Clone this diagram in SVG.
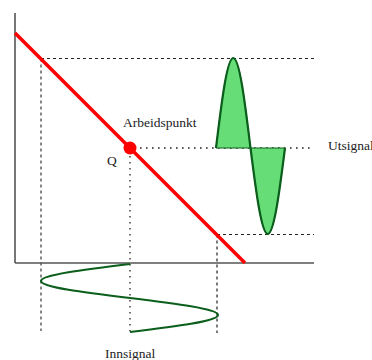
<svg xmlns="http://www.w3.org/2000/svg" width="372" height="360" viewBox="0 0 372 360">
<style>
.axis{stroke:#555;stroke-width:1.6;fill:none}
.dash{stroke:#222;stroke-width:1.2;stroke-dasharray:3,3;fill:none}
.dashg{stroke:#555;stroke-width:1.4;stroke-dasharray:3,3;fill:none}
.dot{stroke:#222;stroke-width:1.3;stroke-dasharray:1.6,4.4;fill:none}
.wave{stroke:#0b5e1b;stroke-width:2.2;fill:none}
.lbl{font-family:"Liberation Serif","Times New Roman",serif;font-size:13.5px;fill:#222}
</style>
<rect width="372" height="360" fill="#fff"/>
<g id="connectors">
<line class="dashg" x1="41" y1="58.5" x2="41" y2="331"/>
<line class="dash" x1="41" y1="58.5" x2="314" y2="58.5"/>
<line class="dot" x1="140" y1="148" x2="314" y2="148"/>
<line class="dot" x1="130" y1="156" x2="130" y2="333"/>
<line class="dash" x1="217" y1="234.5" x2="314" y2="234.5"/>
<line class="dash" x1="217" y1="234.5" x2="217" y2="333"/>
</g>
<g id="axes">
<line class="axis" x1="15" y1="13" x2="15" y2="263"/>
<line class="axis" x1="15" y1="263" x2="314" y2="263"/>
</g>
<g id="loadline">
<line x1="15" y1="33" x2="245" y2="263" stroke="#ff0000" stroke-width="3.5"/>
</g>
<g id="output-signal">
<path d="M216,148 C221.6,101.9 227,58 233.25,58 C239.5,58 244.9,101.9 250.5,148 C256.1,192.1 261.5,234 267.75,234 C274,234 279.4,192.1 285,148 Z" fill="#66dd77" stroke="#0b5e1b" stroke-width="1"/>
<path class="wave" d="M216,148 C221.6,101.9 227,58 233.25,58 C239.5,58 244.9,101.9 250.5,148 C256.1,192.1 261.5,234 267.75,234 C274,234 279.4,192.1 285,148"/>
</g>
<g id="input-signal">
<path class="wave" d="M130,264 C84.4,269.5 41,274.85 41,281 C41,287.15 84.4,292.5 130,298 C175.1,303.5 218,308.85 218,315 C218,321.15 175.1,326.5 130,332"/>
</g>
<g id="Q">
<circle cx="130" cy="148" r="6.5" fill="#ff0000"/>
<text class="lbl" x="107" y="165">Q</text>
</g>
<g id="labels">
<text class="lbl" x="123" y="126.5">Arbeidspunkt</text>
<text class="lbl" x="328" y="149.5">Utsignal</text>
<text class="lbl" x="105" y="357.5">Innsignal</text>
</g>
</svg>
